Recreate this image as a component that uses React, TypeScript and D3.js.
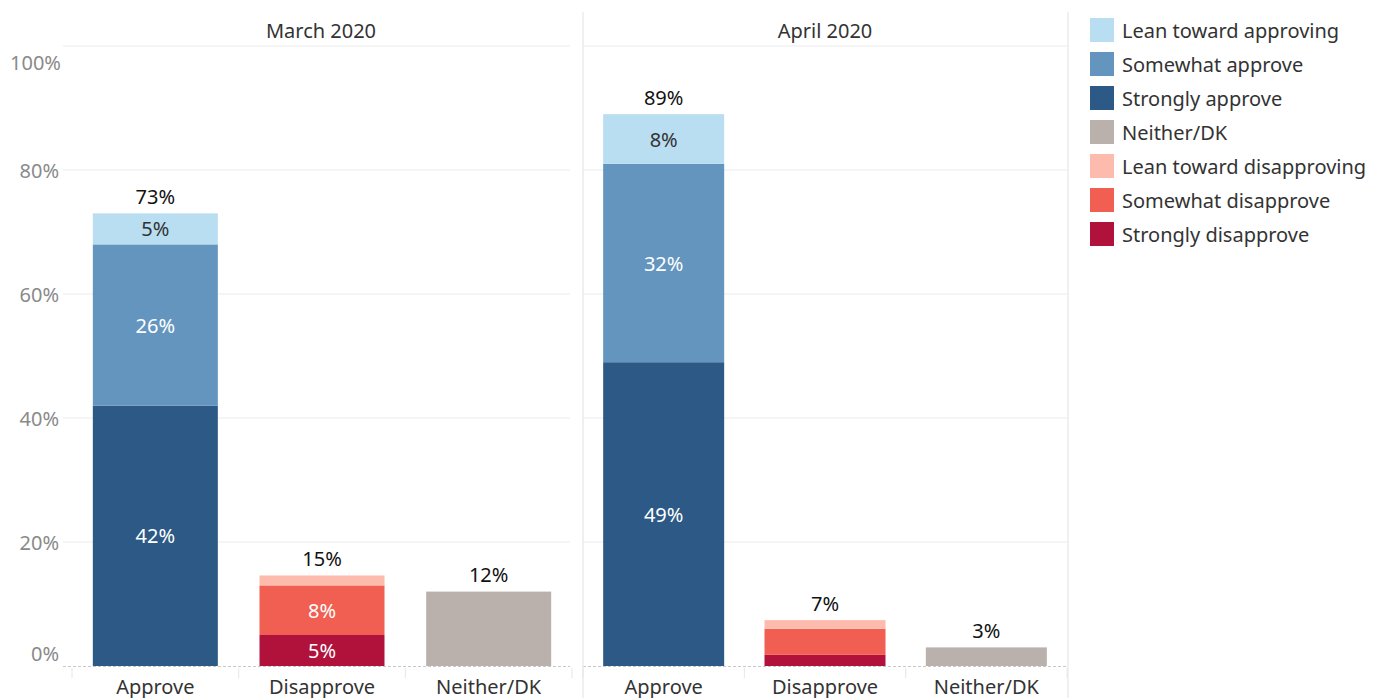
import React from "react";
import * as d3 from "d3";

// Survey waves shown as side-by-side panels
const waves = ["March 2020", "April 2020"];
const categories = ["Approve", "Disapprove", "Neither/DK"];

// Response levels, bottom of stack first
const approveLevels = ["Strongly approve", "Somewhat approve", "Lean toward approving"];
const disapproveLevels = ["Strongly disapprove", "Somewhat disapprove", "Lean toward disapproving"];
const neitherLevels = ["Neither/DK"];

// Percent values per wave, in the level order above
const marchApprove = [42, 26, 5];
const marchDisapprove = [5, 8, 1.6];
const marchNeither = [12];
const aprilApprove = [49, 32, 8];
const aprilDisapprove = [1.8, 4.2, 1.4];
const aprilNeither = [3];

const legendOrder = [
  "Lean toward approving",
  "Somewhat approve",
  "Strongly approve",
  "Neither/DK",
  "Lean toward disapproving",
  "Somewhat disapprove",
  "Strongly disapprove",
];
const legendColors = ["#b9ddf1", "#6395bf", "#2c5985", "#bab0ac", "#fdbbae", "#f05f51", "#b0123b"];
const darkText = new Set(["Lean toward approving", "Lean toward disapproving", "Neither/DK"]);

const yTicks = [0, 20, 40, 60, 80, 100];

const W = 1381;
const H = 698;
const FONT = "'Noto Sans', sans-serif";
const FS = 20;

const color = d3.scaleOrdinal<string, string>().domain(legendOrder).range(legendColors);

type Stack = { category: string; levels: string[]; values: number[] };

const panelData: Stack[][] = [
  [
    { category: "Approve", levels: approveLevels, values: marchApprove },
    { category: "Disapprove", levels: disapproveLevels, values: marchDisapprove },
    { category: "Neither/DK", levels: neitherLevels, values: marchNeither },
  ],
  [
    { category: "Approve", levels: approveLevels, values: aprilApprove },
    { category: "Disapprove", levels: disapproveLevels, values: aprilDisapprove },
    { category: "Neither/DK", levels: neitherLevels, values: aprilNeither },
  ],
];

const panelRanges: [number, number][] = [
  [72, 572],
  [583, 1067],
];

const top = 46;
const base = 666;
const y = d3.scaleLinear().domain([0, 100]).range([base, top]);

function Panel({ idx }: { idx: number }) {
  const [x0, x1] = panelRanges[idx];
  const x = d3.scaleBand<string>().domain(categories).range([x0, x1]).paddingInner(0.25).paddingOuter(0.125);
  const lineX0 = idx === 0 ? 63 : x0;
  const lineX1 = idx === 0 ? 570 : x1;
  return (
    <g>
      {/* header */}
      <text x={(x0 + x1) / 2 - (idx === 0 ? 1 : 0)} y={30} textAnchor="middle" dominantBaseline="central"
        fontFamily={FONT} fontSize={FS} fill="#333">{waves[idx]}</text>
      {/* gridlines */}
      {yTicks.filter((t) => t > 0).map((t) => (
        <line key={t} x1={lineX0} x2={lineX1} y1={y(t)} y2={y(t)} stroke="#ececec" strokeWidth={1.2} />
      ))}
      {/* zero line */}
      <line x1={lineX0} x2={lineX1} y1={y(0) + 0.5} y2={y(0) + 0.5} stroke="#c8c8c8" strokeWidth={1} strokeDasharray="3,2" />
      {/* category boundary ticks */}
      {categories.map((c, i) => (
        <line key={c} x1={x0 + (i * (x1 - x0)) / 3} x2={x0 + (i * (x1 - x0)) / 3} y1={668} y2={678} stroke="#e6e6e6" />
      ))}
      <line x1={x1} x2={x1} y1={668} y2={678} stroke="#e6e6e6" />
      {panelData[idx].map((s) => {
        const bx = x(s.category)!;
        const bw = x.bandwidth();
        let acc = 0;
        const total = d3.sum(s.values);
        return (
          <g key={s.category}>
            {s.values.map((v, j) => {
              const y0 = acc;
              acc += v;
              const level = s.levels[j];
              const yt = y(acc);
              const yb = y(y0);
              return (
                <g key={level}>
                  <rect x={bx} y={yt} width={bw} height={yb - yt} fill={color(level)} />
                  {v >= 4.5 && s.values.length > 1 && (
                    <text x={bx + bw / 2} y={(yt + yb) / 2} textAnchor="middle" dominantBaseline="central"
                      fontFamily={FONT} fontSize={FS} fill={darkText.has(level) ? "#333" : "#fff"}>
                      {`${Math.round(v)}%`}
                    </text>
                  )}
                </g>
              );
            })}
            <text x={bx + bw / 2} y={y(total) - 17} textAnchor="middle" dominantBaseline="central"
              fontFamily={FONT} fontSize={FS} fill="#111">{`${Math.round(total)}%`}</text>
            <text x={bx + bw / 2} y={686} textAnchor="middle" dominantBaseline="central"
              fontFamily={FONT} fontSize={FS} fill="#333">{s.category}</text>
          </g>
        );
      })}
    </g>
  );
}

export default function App() {
  return (
    <svg width={W} height={H} style={{ position: "absolute", left: 0, top: 0, background: "#fff" }}>
      {/* y axis labels; end labels pulled inward */}
      {yTicks.map((t) => {
        let yy = y(t);
        if (t === 0) yy -= 13;
        if (t === 100) yy += 16;
        return (
          <text key={t} x={t === 100 ? 61 : 59} y={yy} textAnchor="end" dominantBaseline="central"
            fontFamily={FONT} fontSize={FS} fill="#8a8a8a">{`${t}%`}</text>
        );
      })}
      <Panel idx={0} />
      <Panel idx={1} />
      {/* panel separators */}
      <line x1={583} x2={583} y1={12} y2={H} stroke="#e6e6e6" strokeWidth={1.2} />
      <line x1={1068} x2={1068} y1={12} y2={H} stroke="#e6e6e6" strokeWidth={1.2} />
      {/* legend */}
      {legendOrder.map((l, i) => (
        <g key={l} transform={`translate(1090, ${30 + i * 34})`}>
          <rect x={0} y={-12} width={24} height={24} fill={color(l)} />
          <text x={32} y={0} dominantBaseline="central" fontFamily={FONT} fontSize={FS} fill="#333">{l}</text>
        </g>
      ))}
    </svg>
  );
}
